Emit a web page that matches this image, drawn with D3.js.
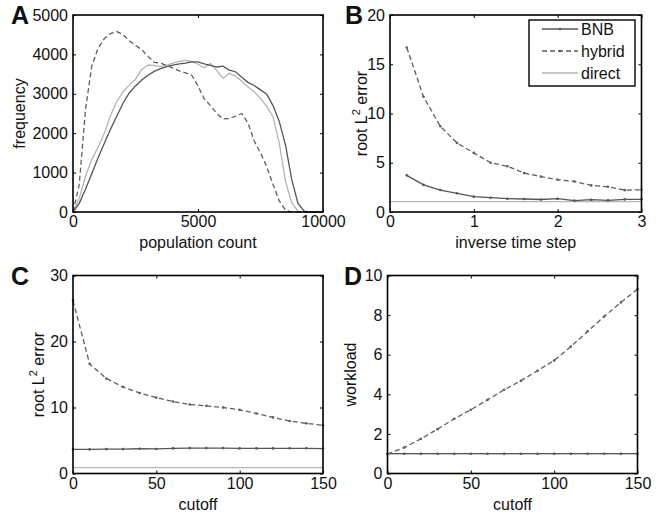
<!DOCTYPE html>
<html>
<head>
<meta charset="utf-8">
<script src="https://cdn.jsdelivr.net/npm/d3@7"></script>
<style>
  body { margin: 0; background: #fff; }
  text { font-family: "Liberation Sans", Arial, Helvetica, sans-serif; fill: #111; }
</style>
</head>
<body>
<div id="chart"></div>
<script>
// Panel A: population count histogram
const popCount = [0, 250, 500, 750, 1000, 1250, 1500, 1750, 2000, 2250, 2500, 2750, 3000, 3250, 3500, 3750,
  4000, 4250, 4500, 4750, 5000, 5250, 5500, 5750, 6000, 6250, 6500, 6750, 7000, 7250, 7500, 7750,
  8000, 8250, 8500, 8750, 9000, 9250, 9500, 9750, 10000];
const freqBNB = [0, 220, 580, 970, 1370, 1740, 2100, 2430, 2760, 3020, 3200, 3350, 3470, 3570, 3640, 3690,
  3730, 3760, 3780, 3810, 3810, 3760, 3720, 3680, 3700, 3600, 3560, 3420, 3290, 3210, 3100, 2990,
  2700, 2300, 1700, 820, 220, 20, 0, 0, 0];
const freqHybrid = [0, 700, 2600, 3700, 4150, 4400, 4530, 4580, 4500, 4350, 4230, 4120, 3950, 3800, 3780, 3720,
  3650, 3580, 3530, 3470, 3200, 2870, 2700, 2500, 2360, 2370, 2430, 2500, 2260, 1800, 1500, 1150,
  700, 280, 50, 0, 0, 0, 0, 0, 0];
const freqDirect = [0, 350, 900, 1330, 1640, 1990, 2450, 2800, 3050, 3220, 3370, 3620, 3730, 3720, 3690, 3730,
  3780, 3820, 3850, 3820, 3750, 3660, 3770, 3590, 3390, 3520, 3450, 3320, 3170, 3050, 2880, 2680,
  2420, 1750, 780, 230, 20, 0, 0, 0, 0];

// Panel B: error vs inverse time step
const invTimeStep = [0.2, 0.4, 0.6, 0.8, 1.0, 1.2, 1.4, 1.6, 1.8, 2.0, 2.2, 2.4, 2.6, 2.8, 3.0];
const errBNB_B = [3.72, 2.75, 2.23, 1.9, 1.56, 1.45, 1.35, 1.32, 1.27, 1.35, 1.15, 1.25, 1.18, 1.28, 1.28];
const errHybrid_B = [16.7, 11.7, 8.7, 7.0, 6.0, 5.0, 4.65, 3.95, 3.6, 3.28, 3.1, 2.7, 2.56, 2.22, 2.25];
const errDirect_B = 1.05;

// Panels C and D: cutoff sweep
const cutoff = [0, 10, 20, 30, 40, 50, 60, 70, 80, 90, 100, 110, 120, 130, 140, 150];
const errBNB_C = [3.65, 3.65, 3.7, 3.7, 3.75, 3.72, 3.8, 3.85, 3.85, 3.85, 3.8, 3.8, 3.8, 3.82, 3.82, 3.78];
const errHybrid_C = [26.2, 16.6, 14.4, 13.1, 12.2, 11.5, 10.9, 10.45, 10.25, 10.0, 9.65, 9.1, 8.5, 7.95, 7.6, 7.3];
const errDirect_C = 0.9;
const workBNB = [1, 1, 1, 1, 1, 1, 1, 1, 1, 1, 1, 1, 1, 1, 1, 1];
const workHybrid = [0.98, 1.31, 1.75, 2.24, 2.76, 3.22, 3.72, 4.23, 4.68, 5.19, 5.71, 6.41, 7.17, 7.93, 8.64, 9.31];
const workDirect = 1;

const seriesNames = ["BNB", "hybrid", "direct"];

const colBNB = "#555", colHybrid = "#5e5e5e", colDirect = "#b5b5b5";

const svg = d3.select("#chart").append("svg")
  .attr("width", 661)
  .attr("height", 517)
  .style("background", "#fff");

function panel(o) {
  const g = svg.append("g");
  const x = d3.scaleLinear().domain(o.xDomain).range([o.left, o.right]);
  const y = d3.scaleLinear().domain(o.yDomain).range([o.bottom, o.top]);
  const fmt = d3.format("d");

  // bottom / left axes with labels, inward ticks
  g.append("g").attr("transform", `translate(0,${o.bottom})`)
    .call(d3.axisBottom(x).tickValues(o.xTicks).tickSize(-3).tickPadding(4).tickFormat(fmt))
    .call(a => a.select(".domain").remove());
  g.append("g").attr("transform", `translate(${o.left},0)`)
    .call(d3.axisLeft(y).tickValues(o.yTicks).tickSize(-3).tickPadding(5).tickFormat(fmt))
    .call(a => a.select(".domain").remove());
  // mirrored top / right ticks
  g.append("g").attr("transform", `translate(0,${o.top})`)
    .call(d3.axisTop(x).tickValues(o.xTicks).tickSize(-3).tickFormat(""))
    .call(a => a.select(".domain").remove());
  g.append("g").attr("transform", `translate(${o.right},0)`)
    .call(d3.axisRight(y).tickValues(o.yTicks).tickSize(-3).tickFormat(""))
    .call(a => a.select(".domain").remove());

  g.selectAll(".tick line").attr("stroke", "#000").attr("stroke-width", 1);
  g.selectAll(".tick text")
    .style("font-family", "'Liberation Sans', Arial, sans-serif")
    .style("font-size", "16px")
    .attr("fill", "#111");

  const line = d3.line().x(d => x(d[0])).y(d => y(d[1]));

  o.series.forEach(s => {
    const pts = s.xs.map((v, i) => [v, s.ys[i]]);
    g.append("path")
      .attr("d", line(pts))
      .attr("fill", "none")
      .attr("stroke", s.color)
      .attr("stroke-width", 1.3)
      .attr("stroke-dasharray", s.dash || null);
    if (s.markers) {
      g.selectAll(null).data(pts).enter().append("circle")
        .attr("cx", d => x(d[0]))
        .attr("cy", d => y(d[1]))
        .attr("r", 1.3)
        .attr("fill", s.color);
    }
  });

  // axes box
  g.append("rect")
    .attr("x", o.left).attr("y", o.top)
    .attr("width", o.right - o.left).attr("height", o.bottom - o.top)
    .attr("fill", "none").attr("stroke", "#000").attr("stroke-width", 1.6);

  // panel letter
  g.append("text")
    .attr("x", o.letterX).attr("y", o.top + 9)
    .style("font-size", "25px").style("font-weight", "bold")
    .text(o.letter);

  // x label
  g.append("text")
    .attr("x", (o.left + o.right) / 2).attr("y", o.bottom + 36)
    .attr("text-anchor", "middle")
    .style("font-size", "16px")
    .text(o.xLabel);

  // y label
  const yl = g.append("text")
    .attr("transform", `translate(${o.yLabelX},${(o.top + o.bottom) / 2}) rotate(-90)`)
    .attr("text-anchor", "middle")
    .style("font-size", "16px");
  if (o.yLabel === "root L2 error") {
    yl.append("tspan").text("root L");
    yl.append("tspan").attr("dy", -7).style("font-size", "11px").text("2");
    yl.append("tspan").attr("dy", 7).text(" error");
  } else {
    yl.text(o.yLabel);
  }
  return { g, x, y };
}

// A
panel({
  left: 73, right: 323, top: 15, bottom: 212,
  xDomain: [0, 10000], yDomain: [0, 5000],
  xTicks: [0, 5000, 10000], yTicks: [0, 1000, 2000, 3000, 4000, 5000],
  letter: "A", letterX: 11, xLabel: "population count", yLabel: "frequency", yLabelX: 25,
  series: [
    { xs: popCount, ys: freqDirect, color: colDirect },
    { xs: popCount, ys: freqBNB, color: colBNB },
    { xs: popCount, ys: freqHybrid, color: colHybrid, dash: "5,3" }
  ]
});

// B
const pB = panel({
  left: 390, right: 641.5, top: 15, bottom: 212,
  xDomain: [0, 3], yDomain: [0, 20],
  xTicks: [0, 1, 2, 3], yTicks: [0, 5, 10, 15, 20],
  letter: "B", letterX: 345, xLabel: "inverse time step", yLabel: "root L2 error", yLabelX: 366.5,
  series: [
    { xs: [0, 3], ys: [errDirect_B, errDirect_B], color: colDirect },
    { xs: invTimeStep, ys: errBNB_B, color: colBNB, markers: true },
    { xs: invTimeStep, ys: errHybrid_B, color: colHybrid, dash: "5,3", markers: true }
  ]
});

// C
panel({
  left: 73, right: 323, top: 275.5, bottom: 473.5,
  xDomain: [0, 150], yDomain: [0, 30],
  xTicks: [0, 50, 100, 150], yTicks: [0, 10, 20, 30],
  letter: "C", letterX: 11, xLabel: "cutoff", yLabel: "root L2 error", yLabelX: 44,
  series: [
    { xs: [0, 150], ys: [errDirect_C, errDirect_C], color: colDirect },
    { xs: cutoff, ys: errBNB_C, color: colBNB, markers: true },
    { xs: cutoff, ys: errHybrid_C, color: colHybrid, dash: "5,3", markers: true }
  ]
});

// D
panel({
  left: 387.5, right: 637.5, top: 275.5, bottom: 473.5,
  xDomain: [0, 150], yDomain: [0, 10],
  xTicks: [0, 50, 100, 150], yTicks: [0, 2, 4, 6, 8, 10],
  letter: "D", letterX: 344, xLabel: "cutoff", yLabel: "workload", yLabelX: 356,
  series: [
    { xs: [0, 150], ys: [workDirect, workDirect], color: colDirect },
    { xs: cutoff, ys: workBNB, color: colBNB, markers: true },
    { xs: cutoff, ys: workHybrid, color: colHybrid, dash: "5,3", markers: true }
  ]
});

// legend in panel B
const leg = pB.g.append("g").attr("transform", "translate(529,20)");
leg.append("rect")
  .attr("width", 106).attr("height", 66)
  .attr("fill", "#fff").attr("stroke", "#000").attr("stroke-width", 1.4);
const legStyle = [
  { color: colBNB, markers: true },
  { color: colHybrid, dash: "5,3", markers: true },
  { color: colDirect }
];
seriesNames.forEach((name, i) => {
  const yy = 9 + i * 22;
  const st = legStyle[i];
  leg.append("line")
    .attr("x1", 13).attr("x2", 49).attr("y1", yy).attr("y2", yy)
    .attr("stroke", st.color).attr("stroke-width", 1.3)
    .attr("stroke-dasharray", st.dash || null);
  if (st.markers) {
    leg.append("circle").attr("cx", 31).attr("cy", yy).attr("r", 1.3).attr("fill", st.color);
  }
  leg.append("text")
    .attr("x", 52).attr("y", yy).attr("dy", "0.35em")
    .style("font-size", "16px")
    .text(name);
});
</script>
</body>
</html>
